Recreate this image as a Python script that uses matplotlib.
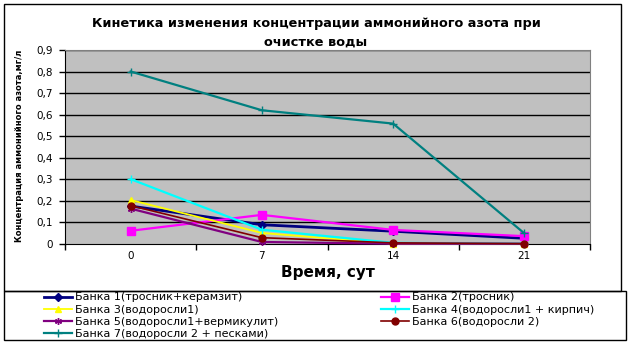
import matplotlib
matplotlib.use("Agg")
import matplotlib.pyplot as plt
from matplotlib.patches import Rectangle

days = ["0", "7", "14", "21"]
yticks = [0.0, 0.1, 0.2, 0.3, 0.4, 0.5, 0.6, 0.7, 0.8, 0.9]
ytick_labels = ["0", "0,1", "0,2", "0,3", "0,4", "0,5", "0,6", "0,7", "0,8", "0,9"]

names = [
    "Банка 1(тросник+керамзит)",
    "Банка 2(тросник)",
    "Банка 3(водоросли1)",
    "Банка 4(водоросли1 + кирпич)",
    "Банка 5(водоросли1+вермикулит)",
    "Банка 6(водоросли 2)",
    "Банка 7(водоросли 2 + песками)",
]
bank1 = [0.175, 0.088, 0.058, 0.025]
bank2 = [0.060, 0.134, 0.064, 0.035]
bank3 = [0.203, 0.050, 0.000, 0.000]
bank4 = [0.300, 0.065, 0.004, 0.000]
bank5 = [0.163, 0.008, 0.000, 0.000]
bank6 = [0.177, 0.028, 0.004, 0.000]
bank7 = [0.800, 0.620, 0.558, 0.048]
series = [bank1, bank2, bank3, bank4, bank5, bank6, bank7]

colors = ["#000080", "#FF00FF", "#FFFF00", "#00FFFF", "#800080", "#800000", "#008080"]
markers = ["D", "s", "^", "+", (6, 2, 0), "o", "+"]
msizes = [4, 6, 5, 6, 5, 5, 6]
lws = [2.0, 1.6, 1.3, 1.6, 1.6, 1.2, 1.6]

W, H = 631, 343
fig = plt.figure(figsize=(W / 100, H / 100), dpi=100)
fig.patch.set_facecolor("white")

# outer chart frame and legend box
fig.add_artist(Rectangle((4 / W, 1 - 291 / H), (621 - 4) / W, (291 - 4) / H,
                         transform=fig.transFigure, fill=False, edgecolor="black", lw=1.0))
fig.add_artist(Rectangle((4 / W, 1 - 340 / H), (626 - 4) / W, (340 - 291) / H,
                         transform=fig.transFigure, fill=False, edgecolor="black", lw=1.0))

x0, x1, y0, y1 = 65, 590, 50, 243.7
ax = fig.add_axes([x0 / W, 1 - y1 / H, (x1 - x0) / W, (y1 - y0) / H])
ax.set_facecolor("#C0C0C0")

xs = list(range(len(days)))
handles = []
for s, name, c, m, ms, lw in zip(series, names, colors, markers, msizes, lws):
    h, = ax.plot(xs, s, color=c, lw=lw, marker=m, markersize=ms,
                 markerfacecolor=c, markeredgecolor=c, markeredgewidth=1.0,
                 label=name, clip_on=False, zorder=3)
    handles.append(h)

ax.set_xlim(-0.5, len(days) - 0.5)
ax.set_ylim(0, 0.9)
ax.set_yticks(yticks)
ax.set_yticklabels(ytick_labels)
for y in yticks[1:]:
    ax.axhline(y, color="black", lw=1.0, zorder=1)

ax.set_xticks([i - 0.5 for i in range(len(days) + 1)])
ax.set_xticklabels([])
ax.set_xticks(xs, minor=True)
ax.set_xticklabels(days, minor=True)
ax.tick_params(axis="x", which="minor", length=0, pad=5, labelsize=7.5)
ax.tick_params(axis="x", which="major", length=4, direction="out", width=1)
ax.tick_params(axis="y", length=4, direction="out", width=1, labelsize=7.5, pad=5)
for lab in ax.get_xticklabels(minor=True) + ax.get_yticklabels():
    lab.set_fontfamily("DejaVu Sans")

for sp in ["top", "right"]:
    ax.spines[sp].set_color("#808080")
for sp in ["left", "bottom"]:
    ax.spines[sp].set_color("black")

fig.text(316 / W, 1 - 24 / H, "Кинетика изменения концентрации аммонийного азота при",
         ha="center", va="center", fontsize=9.3, fontweight="bold", family="DejaVu Sans")
fig.text(316 / W, 1 - 42 / H, "очистке воды",
         ha="center", va="center", fontsize=9.3, fontweight="bold", family="DejaVu Sans")
fig.text(20 / W, 1 - 146 / H, "Концентрация аммонийного азота,мг/л", rotation=90,
         ha="center", va="center", fontsize=6, fontweight="bold", family="DejaVu Sans")
fig.text(328 / W, 1 - 273 / H, "Время, сут", ha="center", va="center",
         fontsize=11, fontweight="bold", family="DejaVu Sans")

legkw = dict(frameon=False, handlelength=2.5, handletextpad=0.25,
             labelspacing=0.2, borderpad=0, borderaxespad=0,
             prop={"family": "DejaVu Sans", "size": 8})
col1 = [handles[i] for i in (0, 2, 4, 6)]
col2 = [handles[i] for i in (1, 3, 5)]
fig.legend(col1, [h.get_label() for h in col1], loc="upper left",
           bbox_to_anchor=(44 / W, 1 - 292.5 / H), **legkw)
fig.legend(col2, [h.get_label() for h in col2], loc="upper left",
           bbox_to_anchor=(381 / W, 1 - 292.5 / H), **legkw)

fig.savefig("out.png", dpi=100)
